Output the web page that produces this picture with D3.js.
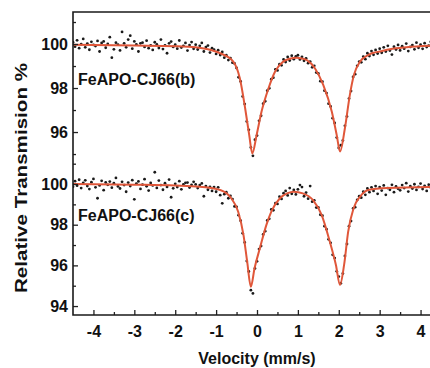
<!DOCTYPE html>
<html>
<head>
<meta charset="utf-8">
<script src="https://cdn.jsdelivr.net/npm/d3@7"></script>
<style>
	body { margin: 0; background: #fff; }
	svg { display: block; font-family: Arial, "Liberation Sans", sans-serif; font-weight: bold; }
</style>
</head>
<body>
<div id="chart"></div>
<script>
// velocity channels (mm/s)
var velocity = [
	-4.50, -4.45, -4.40, -4.35, -4.30, -4.25, -4.20, -4.15, -4.10, -4.05,
	-4.00, -3.95, -3.90, -3.85, -3.80, -3.75, -3.70, -3.65, -3.60, -3.55,
	-3.50, -3.45, -3.40, -3.35, -3.30, -3.25, -3.20, -3.15, -3.10, -3.05,
	-3.00, -2.95, -2.90, -2.85, -2.80, -2.75, -2.70, -2.65, -2.60, -2.55,
	-2.50, -2.45, -2.40, -2.35, -2.30, -2.25, -2.20, -2.15, -2.10, -2.05,
	-2.00, -1.95, -1.90, -1.85, -1.80, -1.75, -1.70, -1.65, -1.60, -1.55,
	-1.50, -1.45, -1.40, -1.35, -1.30, -1.25, -1.20, -1.15, -1.10, -1.05,
	-1.00, -0.95, -0.90, -0.85, -0.80, -0.75, -0.70, -0.65, -0.60, -0.55,
	-0.50, -0.45, -0.40, -0.35, -0.30, -0.25, -0.20, -0.15, -0.10, -0.05,
	0.00, 0.05, 0.10, 0.15, 0.20, 0.25, 0.30, 0.35, 0.40, 0.45,
	0.50, 0.55, 0.60, 0.65, 0.70, 0.75, 0.80, 0.85, 0.90, 0.95,
	1.00, 1.05, 1.10, 1.15, 1.20, 1.25, 1.30, 1.35, 1.40, 1.45,
	1.50, 1.55, 1.60, 1.65, 1.70, 1.75, 1.80, 1.85, 1.90, 1.95,
	2.00, 2.05, 2.10, 2.15, 2.20, 2.25, 2.30, 2.35, 2.40, 2.45,
	2.50, 2.55, 2.60, 2.65, 2.70, 2.75, 2.80, 2.85, 2.90, 2.95,
	3.00, 3.05, 3.10, 3.15, 3.20, 3.25, 3.30, 3.35, 3.40, 3.45,
	3.50, 3.55, 3.60, 3.65, 3.70, 3.75, 3.80, 3.85, 3.90, 3.95,
	4.00, 4.05, 4.10, 4.15, 4.20, 4.25
];

// measured transmission, sample (b)
var transB = [
	100.08, 99.88, 100.17, 99.81, 99.99, 100.23, 99.85, 100.02, 99.74, 100.10,
	99.96, 99.91, 100.14, 99.66, 100.05, 100.12, 99.83, 100.00, 100.31, 99.38,
	99.76, 100.06, 99.97, 99.71, 100.55, 100.03, 99.85, 100.20, 100.38, 99.79,
	100.12, 99.98, 99.66, 100.03, 100.06, 99.87, 100.15, 99.81, 99.94, 99.73,
	100.08, 99.98, 99.82, 100.20, 99.77, 99.94, 99.58, 100.03, 100.11, 99.87,
	99.97, 99.79, 100.16, 99.84, 99.92, 100.05, 99.70, 99.95, 100.09, 99.78,
	99.97, 99.75, 99.92, 100.05, 99.66, 99.86, 99.93, 99.61, 99.81, 99.74,
	99.55, 99.72, 99.50, 99.64, 99.38, 99.49, 99.27, 99.36, 99.15, 99.12,
	98.91, 98.49, 98.30, 97.62, 97.27, 96.48, 96.10, 95.30, 94.92, 95.65,
	95.84, 96.51, 96.74, 97.29, 97.40, 97.88, 97.99, 98.40, 98.47, 98.85,
	98.80, 99.08, 99.03, 99.30, 99.18, 99.41, 99.25, 99.47, 99.31, 99.44,
	99.49, 99.30, 99.42, 99.24, 99.35, 99.13, 99.20, 98.94, 99.01, 98.70,
	98.66, 98.31, 98.29, 97.88, 97.77, 97.29, 97.16, 96.63, 96.41, 95.75,
	95.28, 95.40, 95.62, 96.28, 96.71, 97.52, 97.86, 98.50, 98.63, 99.01,
	99.20, 99.17, 99.43, 99.31, 99.58, 99.45, 99.68, 99.51, 99.73, 99.57,
	99.79, 99.60, 99.85, 99.66, 99.92, 99.70, 99.52, 99.88, 99.75, 99.96,
	99.71, 99.90, 99.79, 100.02, 99.68, 99.87, 99.95, 99.76, 100.06, 99.83,
	99.97, 99.78, 100.04, 99.86, 99.93, 100.10
];

// measured transmission, sample (c)
var transC = [
	99.87, 100.14, 99.92, 100.21, 99.80, 100.06, 100.18, 99.90, 99.75, 100.09,
	100.25, 99.84, 99.30, 99.93, 100.16, 99.70, 100.08, 99.96, 100.12, 99.82,
	100.04, 100.30, 99.88, 99.78, 100.11, 99.95, 99.62, 100.07, 99.90, 100.19,
	99.25, 100.02, 100.13, 99.76, 99.97, 100.24, 99.89, 99.68, 100.05, 99.93,
	100.58, 99.81, 100.17, 99.95, 99.72, 100.04, 99.86, 100.22, 99.35, 99.79,
	100.01, 99.85, 100.14, 99.74, 99.98, 100.06, 100.07, 99.83, 99.96, 100.11,
	99.98, 99.80, 99.95, 100.03, 99.40, 99.90, 99.72, 99.86, 99.66, 99.85,
	99.62, 99.84, 99.45, 99.05, 99.50, 99.60, 99.30, 99.42, 99.26, 98.90,
	98.88, 98.47, 98.20, 97.58, 97.13, 96.21, 95.70, 94.78, 94.62, 95.85,
	96.20, 96.80, 96.95, 97.52, 97.68, 98.21, 98.29, 98.75, 98.71, 99.06,
	99.02, 99.38, 99.27, 99.55, 99.66, 99.44, 99.80, 99.52, 99.71, 99.49,
	99.74, 99.95, 99.85, 99.40, 99.58, 99.28, 99.90, 99.13, 99.20, 98.84,
	98.85, 98.49, 98.44, 97.93, 97.78, 97.28, 97.11, 96.52, 96.36, 95.71,
	95.45, 95.12, 95.60, 96.46, 97.05, 97.93, 98.18, 98.80, 98.86, 99.22,
	99.40, 99.33, 99.62, 99.47, 99.78, 99.60, 99.84, 99.66, 99.90, 99.52,
	99.85, 99.68, 99.93, 99.47, 99.80, 99.72, 99.96, 99.60, 99.88, 99.77,
	99.69, 99.95, 99.80, 100.04, 99.63, 99.89, 99.78, 99.99, 99.71, 99.86,
	100.02, 99.75, 99.91, 99.66, 99.97, 99.83
];

// fitted curves
var fitVelB = [-4.5, -3.0, -2.0, -1.5, -1.2, -0.9, -0.58, -0.42, -0.29, -0.19, -0.115, -0.01, 0.11, 0.28, 0.44, 0.64, 0.8, 0.97, 1.1, 1.22, 1.42, 1.62, 1.83, 1.95, 2.03, 2.15, 2.27, 2.37, 2.52, 2.72, 2.85, 3.0, 3.25, 3.66, 4.5];
var fitB = [99.97, 99.93, 99.90, 99.85, 99.76, 99.58, 99.20, 98.44, 97.08, 95.86, 95.03, 95.86, 96.92, 97.98, 98.74, 99.20, 99.33, 99.38, 99.34, 99.27, 98.89, 98.14, 96.92, 95.86, 95.11, 96.17, 97.68, 98.59, 99.20, 99.50, 99.60, 99.66, 99.76, 99.85, 99.94];
var fitVelC = [-4.5, -3.0, -2.0, -1.4, -0.9, -0.63, -0.46, -0.33, -0.24, -0.15, -0.06, 0.07, 0.23, 0.35, 0.56, 0.75, 0.9, 1.12, 1.37, 1.58, 1.78, 1.93, 2.03, 2.13, 2.23, 2.36, 2.52, 2.72, 3.2, 4.5];
var fitC = [100.00, 99.97, 99.93, 99.87, 99.71, 99.30, 98.64, 97.49, 96.18, 94.95, 95.86, 96.84, 97.99, 98.64, 99.30, 99.55, 99.62, 99.54, 99.21, 98.48, 97.17, 96.02, 95.04, 96.02, 97.66, 98.80, 99.38, 99.71, 99.80, 99.86];

var xTicks = [-4, -3, -2, -1, 0, 1, 2, 3, 4];
var xMinor = [-3.5, -2.5, -1.5, -0.5, 0.5, 1.5, 2.5, 3.5];
var yTicksB = [96, 98, 100];
var yTicksC = [94, 96, 98, 100];
var yMinor = [95, 97, 99, 101];
var labelB = "FeAPO-CJ66(b)";
var labelC = "FeAPO-CJ66(c)";
var xTitle = "Velocity (mm/s)";
var yTitle = "Relative Transmision %";

var width = 430, height = 368;
var plotLeft = 73, plotRight = 441, plotTop = 12, plotSplit = 158, plotBottom = 315;
var lineColour = "#e0573a";
var fontFamily = "Arial, 'Liberation Sans', sans-serif";

var svg = d3.select("#chart")
	.append("svg")
	.attr("width", width)
	.attr("height", height);

var x = d3.scaleLinear().domain([-4.5, 4.5]).range([plotLeft, plotRight]);
var yB = d3.scaleLinear().domain([94.82, 101.455]).range([plotSplit, plotTop]);
var yC = d3.scaleLinear().domain([93.56, 101.28]).range([plotBottom, plotSplit]);

svg.append("clipPath").attr("id", "plotArea")
	.append("rect")
	.attr("x", plotLeft).attr("y", plotTop)
	.attr("width", plotRight - plotLeft).attr("height", plotBottom - plotTop);

var plot = svg.append("g").attr("clip-path", "url(#plotArea)");

function drawPanel(vals, fv, ft, y) {
	plot.append("g")
		.selectAll("circle")
		.data(vals)
		.enter()
		.append("circle")
		.attr("cx", function (d, i) { return x(velocity[i]); })
		.attr("cy", function (d) { return y(d); })
		.attr("r", 1.4)
		.style("fill", "#1a1a1a");

	var line = d3.line()
		.x(function (d, i) { return x(fv[i]); })
		.y(function (d) { return y(d); })
		.curve(d3.curveMonotoneX);

	plot.append("path")
		.datum(ft)
		.attr("d", line)
		.style("fill", "none")
		.style("stroke", lineColour)
		.style("stroke-width", 2);
}
drawPanel(transB, fitVelB, fitB, yB);
drawPanel(transC, fitVelC, fitC, yC);

function styleAxis(g) {
	g.selectAll(".domain").remove();
	g.selectAll("line").style("stroke", "#222").style("stroke-width", 1.3);
	g.selectAll("text").style("font-size", "16px").style("fill", "#111")
		.style("font-family", fontFamily).style("font-weight", "bold");
}

// y axes, ticks pointing inward
function yAxis(y, major) {
	var g = svg.append("g").attr("transform", "translate(" + plotLeft + ",0)");
	g.call(d3.axisLeft(y).tickValues(major).tickSize(-5).tickPadding(5).tickFormat(function (d) { return String(d); }));
	g.append("g").call(d3.axisLeft(y).tickValues(yMinor).tickSize(-3).tickFormat(""));
	styleAxis(g);
}
yAxis(yB, yTicksB);
yAxis(yC, yTicksC);

// x axis
var gx = svg.append("g").attr("transform", "translate(0," + plotBottom + ")");
gx.call(d3.axisBottom(x).tickValues(xTicks).tickSize(-5).tickPadding(10.5).tickFormat(function (d) { return String(d); }));
gx.append("g").call(d3.axisBottom(x).tickValues(xMinor).tickSize(-3).tickFormat(""));
styleAxis(gx);

// frame
svg.append("path")
	.attr("d", "M" + plotRight + "," + plotTop + "H" + plotLeft + "V" + plotBottom + "H" + plotRight)
	.style("fill", "none")
	.style("stroke", "#1a1a1a")
	.style("stroke-width", 1.6);

// panel labels
svg.append("text").attr("x", 78).attr("y", 85)
	.style("font-size", "16px").style("fill", "#111").text(labelB);
svg.append("text").attr("x", 78).attr("y", 221)
	.style("font-size", "16px").style("fill", "#111").text(labelC);

// titles
svg.append("text")
	.attr("x", 257).attr("y", 364)
	.style("text-anchor", "middle")
	.style("font-size", "16px").style("fill", "#111")
	.text(xTitle);

svg.append("text")
	.attr("transform", "translate(27,178) rotate(-90)")
	.style("text-anchor", "middle")
	.style("font-size", "17px").style("fill", "#111")
	.attr("textLength", 230)
	.attr("lengthAdjust", "spacingAndGlyphs")
	.text(yTitle);
</script>
</body>
</html>
